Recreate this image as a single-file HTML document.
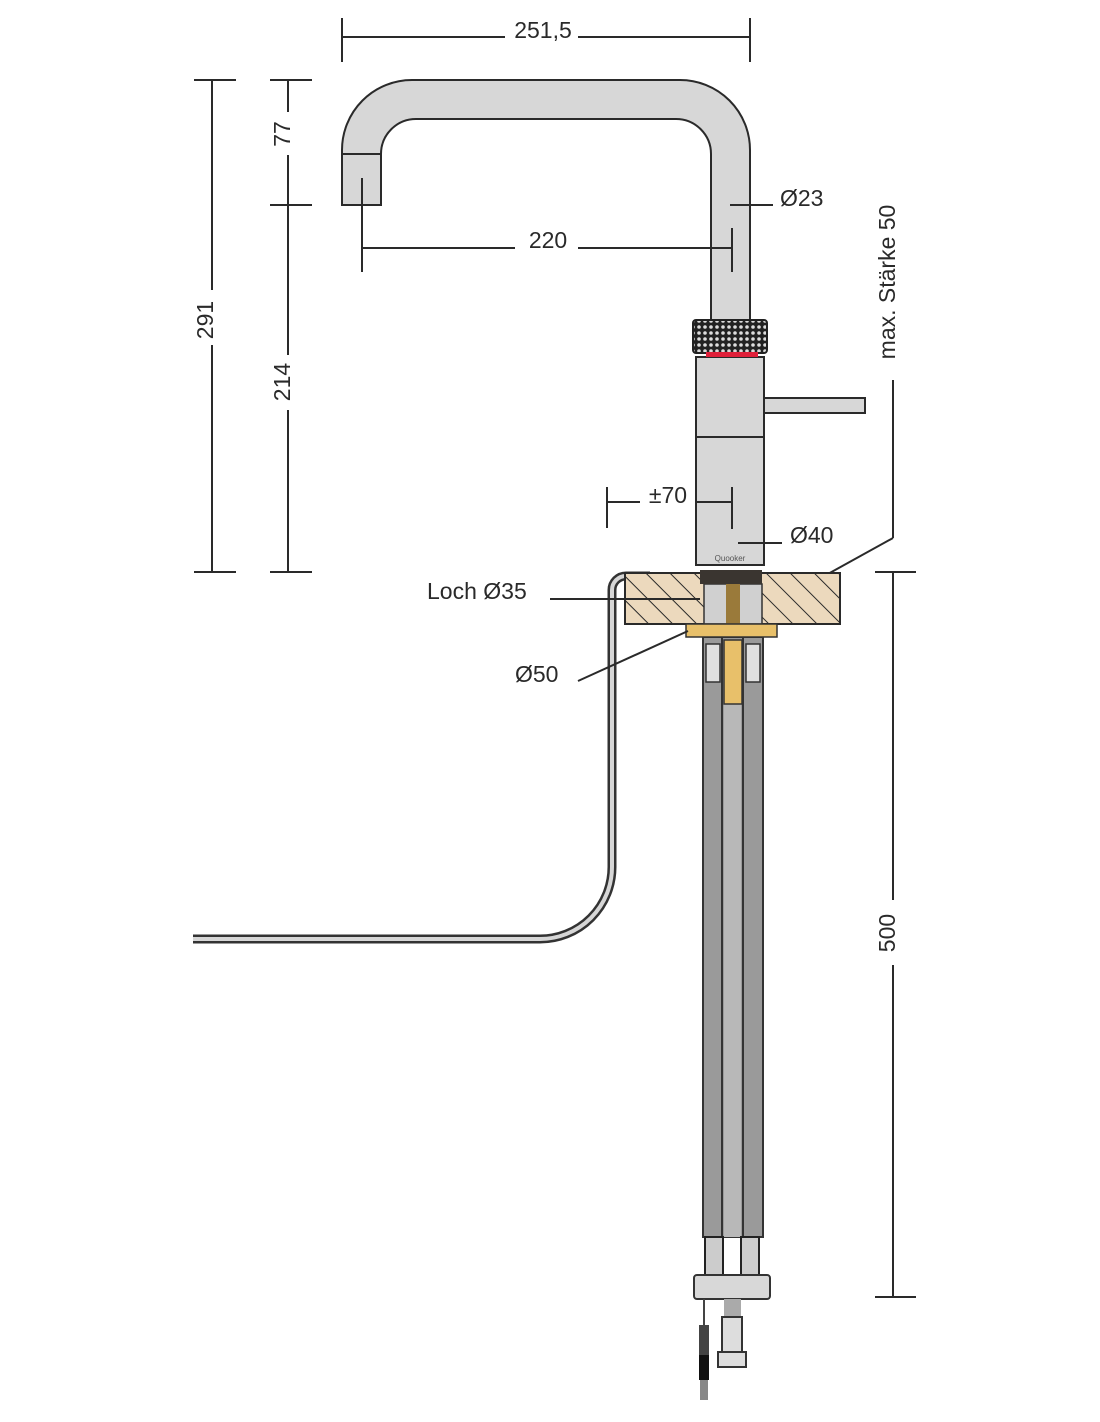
<!DOCTYPE html>
<html><head><meta charset="utf-8"><style>
html,body{margin:0;padding:0;background:#fff}
svg{display:block}
text{font-family:"Liberation Sans",sans-serif;fill:#2a2a2a;font-size:23px}
</style></head><body>
<svg width="1100" height="1422" viewBox="0 0 1100 1422" xmlns="http://www.w3.org/2000/svg">
<defs>
<pattern id="hatch" patternUnits="userSpaceOnUse" width="17" height="17" patternTransform="rotate(-45)">
<rect width="17" height="17" fill="#ecd9bd"/>
<line x1="0" y1="0" x2="0" y2="17" stroke="#2a2a2a" stroke-width="2"/>
</pattern>
<pattern id="knurl" patternUnits="userSpaceOnUse" width="6" height="6">
<rect width="6" height="6" fill="#222"/>
<circle cx="3" cy="3" r="1.8" fill="#ddd"/>
</pattern>
</defs>
<g stroke="#2a2a2a" stroke-width="2" fill="none">
<line x1="342" y1="37" x2="505" y2="37"/><line x1="578" y1="37" x2="750" y2="37"/>
<line x1="342" y1="18" x2="342" y2="62"/><line x1="750" y1="18" x2="750" y2="62"/>
<line x1="212" y1="80" x2="212" y2="290"/><line x1="212" y1="345" x2="212" y2="572"/>
<line x1="194" y1="80" x2="236" y2="80"/><line x1="194" y1="572" x2="236" y2="572"/>
<line x1="288" y1="80" x2="288" y2="112"/><line x1="288" y1="155" x2="288" y2="355"/><line x1="288" y1="410" x2="288" y2="572"/>
<line x1="270" y1="80" x2="312" y2="80"/><line x1="270" y1="205" x2="312" y2="205"/><line x1="270" y1="572" x2="312" y2="572"/>
<line x1="893" y1="572" x2="893" y2="900"/><line x1="893" y1="965" x2="893" y2="1297"/>
<line x1="875" y1="572" x2="916" y2="572"/><line x1="875" y1="1297" x2="916" y2="1297"/>
<line x1="893" y1="380" x2="893" y2="538"/><line x1="893" y1="538" x2="808" y2="585"/>
</g>
<path d="M193 939 H540 A72 72 0 0 0 612 867 V590 A14 14 0 0 1 626 576 H650" fill="none" stroke="#333" stroke-width="9"/>
<path d="M193 939 H540 A72 72 0 0 0 612 867 V590 A14 14 0 0 1 626 576 H650" fill="none" stroke="#d6d6d6" stroke-width="4"/>
<path d="M342 205 V150 A70 70 0 0 1 412 80 H680 A70 70 0 0 1 750 150 V320 H711 V154 A35 35 0 0 0 676 119 H416 A35 35 0 0 0 381 154 V205 Z" fill="#d7d7d7" stroke="#2a2a2a" stroke-width="2"/>
<line x1="342" y1="154" x2="381" y2="154" stroke="#2a2a2a" stroke-width="2"/>
<rect x="625" y="573" width="215" height="51" fill="url(#hatch)" stroke="#2a2a2a" stroke-width="2"/>
<rect x="703" y="637" width="60" height="600" fill="#9a9a9a" stroke="#333" stroke-width="2"/>
<line x1="722" y1="637" x2="722" y2="1237" stroke="#333" stroke-width="2"/>
<line x1="743" y1="637" x2="743" y2="1237" stroke="#333" stroke-width="2"/>
<rect x="724" y="700" width="17" height="537" fill="#b8b8b8"/>
<rect x="706" y="644" width="14" height="38" fill="#e0e0e0" stroke="#333" stroke-width="1.5"/>
<rect x="746" y="644" width="14" height="38" fill="#e0e0e0" stroke="#333" stroke-width="1.5"/>
<rect x="724" y="640" width="18" height="64" fill="#e8c06a" stroke="#333" stroke-width="1.5"/>
<rect x="704" y="584" width="58" height="40" fill="#d0d0d0" stroke="#333" stroke-width="1.5"/>
<rect x="726" y="584" width="14" height="40" fill="#9a7a3a"/>
<rect x="686" y="624" width="91" height="13" fill="#e8c06a" stroke="#333" stroke-width="1.5"/>
<rect x="700" y="570" width="62" height="14" fill="#3a3530"/>
<rect x="705" y="1237" width="18" height="38" fill="#ccc" stroke="#222" stroke-width="2"/>
<rect x="741" y="1237" width="18" height="38" fill="#ccc" stroke="#222" stroke-width="2"/>
<rect x="694" y="1275" width="76" height="24" rx="3" fill="#d8d8d8" stroke="#333" stroke-width="2"/>
<rect x="724" y="1299" width="17" height="20" fill="#aaa"/>
<rect x="722" y="1317" width="20" height="35" fill="#ddd" stroke="#333" stroke-width="2"/>
<rect x="718" y="1352" width="28" height="15" fill="#ddd" stroke="#333" stroke-width="2"/>
<line x1="704" y1="1299" x2="704" y2="1325" stroke="#444" stroke-width="2"/>
<rect x="699" y="1325" width="10" height="30" fill="#444"/>
<rect x="699" y="1355" width="10" height="25" fill="#111"/>
<rect x="700" y="1380" width="8" height="20" fill="#888"/>
<rect x="696" y="357" width="68" height="208" fill="#d7d7d7" stroke="#2a2a2a" stroke-width="2"/>
<line x1="696" y1="437" x2="764" y2="437" stroke="#2a2a2a" stroke-width="2"/>
<rect x="764" y="398" width="101" height="15" fill="#d7d7d7" stroke="#2a2a2a" stroke-width="2"/>
<rect x="693" y="320" width="74" height="33" rx="3" fill="url(#knurl)" stroke="#222" stroke-width="2"/>
<rect x="706" y="352" width="52" height="5" fill="#e0203a"/>
<text x="730" y="561" text-anchor="middle" style="font-size:8px;fill:#555">Quooker</text>
<g stroke="#2a2a2a" stroke-width="2">
<line x1="362" y1="178" x2="362" y2="272"/><line x1="362" y1="248" x2="515" y2="248"/><line x1="578" y1="248" x2="732" y2="248"/><line x1="732" y1="228" x2="732" y2="272"/>
<line x1="730" y1="205" x2="773" y2="205"/>
<line x1="607" y1="487" x2="607" y2="528"/><line x1="607" y1="502" x2="640" y2="502"/><line x1="697" y1="502" x2="732" y2="502"/><line x1="732" y1="487" x2="732" y2="529"/>
<line x1="738" y1="543" x2="782" y2="543"/>
<line x1="550" y1="599" x2="700" y2="599"/>
<line x1="578" y1="681" x2="688" y2="631"/>
</g>
<text x="543" y="38" text-anchor="middle">251,5</text>
<text x="548" y="248" text-anchor="middle">220</text>
<text x="780" y="206">Ø23</text>
<text x="790" y="543">Ø40</text>
<text x="668" y="503" text-anchor="middle">±70</text>
<text x="427" y="599">Loch Ø35</text>
<text x="515" y="682">Ø50</text>
<text transform="translate(213 320) rotate(-90)" text-anchor="middle">291</text>
<text transform="translate(290 134) rotate(-90)" text-anchor="middle">77</text>
<text transform="translate(290 382) rotate(-90)" text-anchor="middle">214</text>
<text transform="translate(895 933) rotate(-90)" text-anchor="middle">500</text>
<text transform="translate(895 282) rotate(-90)" text-anchor="middle">max. Stärke 50</text>
</svg>
</body></html>
